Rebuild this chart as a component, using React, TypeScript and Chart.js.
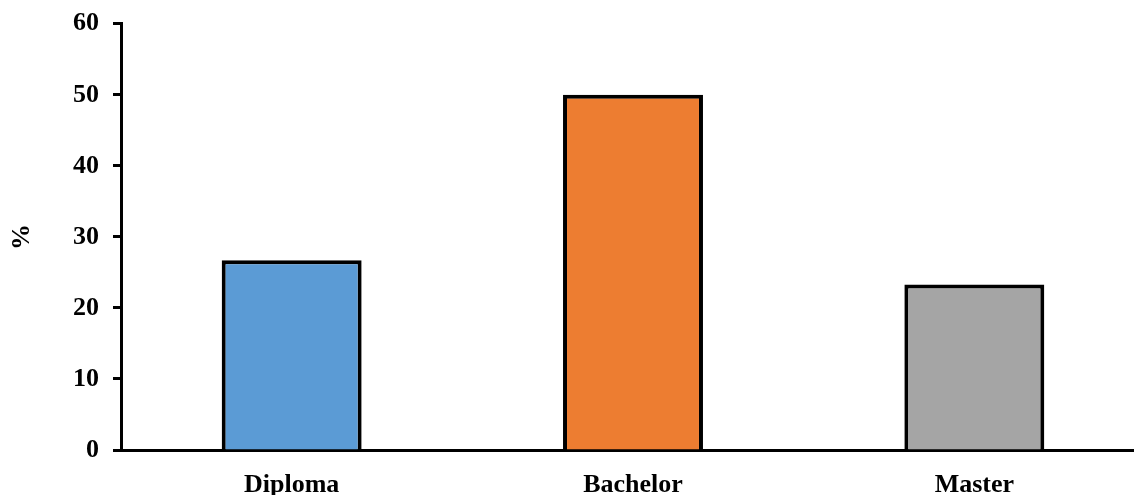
import React, { useEffect, useRef } from "react";
import { Chart, registerables } from "chart.js";

Chart.register(...registerables);

const categories = ["Diploma", "Bachelor", "Master"];
const values = [26.7, 50, 23.3];
const barColors = ["#5B9BD5", "#ED7D31", "#A5A5A5"];
const yTicks = [0, 10, 20, 30, 40, 50, 60];

export default function App() {
  const ref = useRef<HTMLCanvasElement | null>(null);
  useEffect(() => {
    if (!ref.current) return;
    const family = "'Liberation Serif', 'Times New Roman', serif";
    const font = { family, weight: "bold" as const, size: 26 };
    const yFont = { family, weight: "bold" as const, size: 26, lineHeight: 0.75 };
    const chart = new Chart(ref.current, {
      type: "bar",
      data: {
        labels: categories,
        datasets: [
          {
            data: values,
            backgroundColor: barColors,
            borderColor: "#000",
            borderWidth: 4,
            barPercentage: 0.41,
            categoryPercentage: 1,
          },
        ],
      },
      options: {
        animation: false,
        responsive: true,
        maintainAspectRatio: false,
        layout: { padding: { top: 0, right: 0, bottom: 0, left: 0 } },
        plugins: { legend: { display: false }, tooltip: { enabled: false } },
        scales: {
          x: {
            grid: { display: false, drawTicks: false },
            border: { color: "#000", width: 3 },
            ticks: { color: "#000", font, padding: 20 },
            afterFit: (s: any) => {
              s.height = 45;
            },
          },
          y: {
            min: 0,
            max: 60,
            afterBuildTicks: (s: any) => {
              s.ticks = yTicks.map((v) => ({ value: v }));
            },
            grid: { drawOnChartArea: false, drawTicks: true, tickLength: 8, tickWidth: 3, tickColor: "#000" },
            border: { color: "#000", width: 3 },
            ticks: { color: "#000", font: yFont, padding: 14 },
            title: { display: true, text: "%", color: "#000", font, padding: { top: 7, bottom: 0 } },
            afterFit: (s: any) => {
              s.width = 121;
            },
          },
        },
      },
    });
    return () => chart.destroy();
  }, []);
  return (
    <div style={{ position: "fixed", left: 0, top: 0, width: 1134, height: 495, overflow: "hidden", background: "#fff" }}>
      <div style={{ position: "absolute", left: 0, top: 0, width: 1145, height: 495 }}>
        <canvas ref={ref} />
      </div>
    </div>
  );
}
